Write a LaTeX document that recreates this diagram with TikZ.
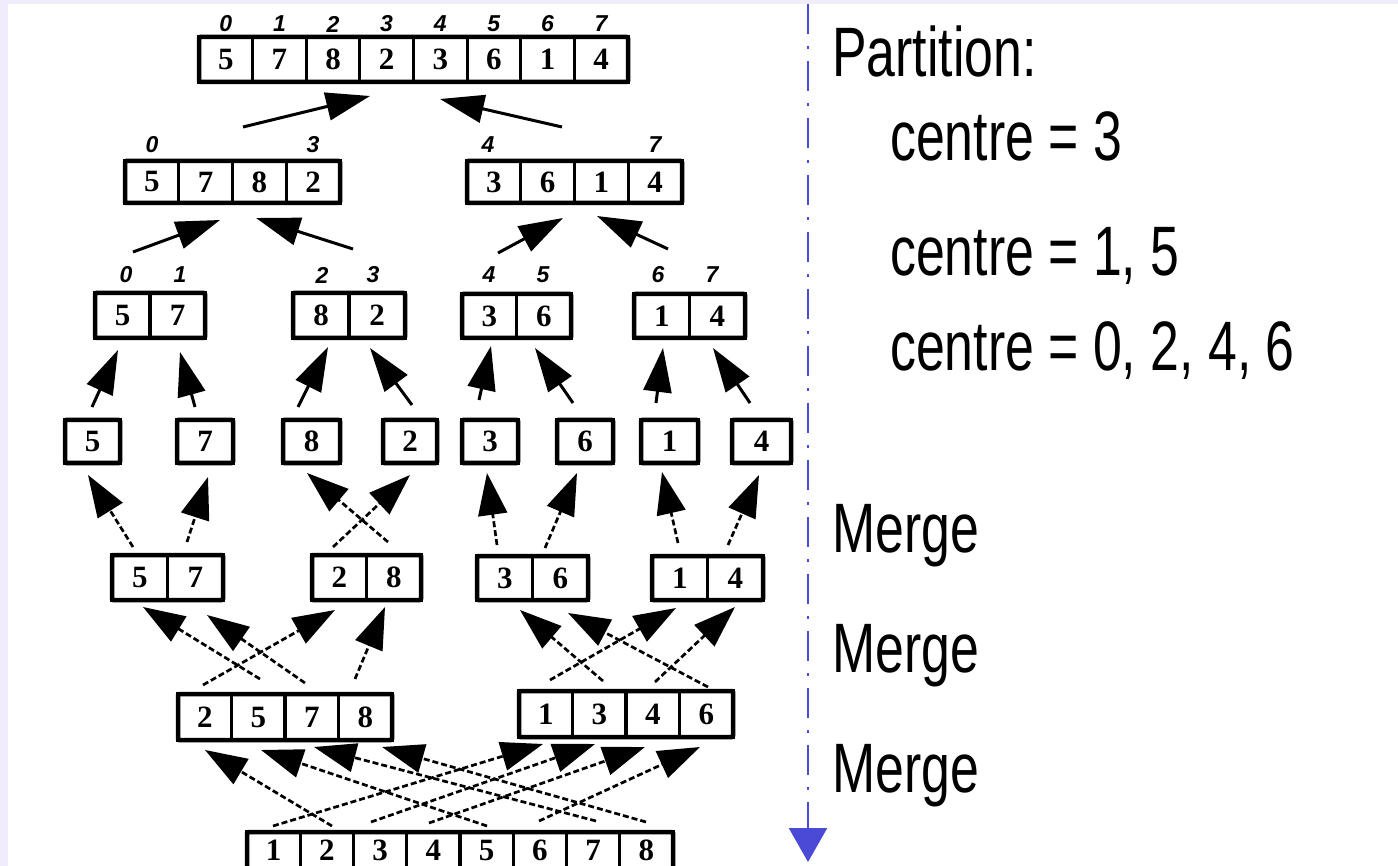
\documentclass[tikz,border=0pt]{standalone}
\usepackage{fontspec}
\setmainfont{Liberation Sans}
\newfontfamily\narrowfont[FakeStretch=0.74]{Liberation Sans}
\newfontfamily\digfont{Liberation Serif}
\newfontfamily\idxfont{Liberation Sans}
\usetikzlibrary{arrows.meta}
\definecolor{lav}{HTML}{F1ECFB}
\definecolor{bl}{HTML}{4A4AD6}
\tikzset{
 cell/.style={draw, line width=3.2pt, inner sep=0pt, font=\digfont\bfseries\fontsize{31}{31}\selectfont},
 digit/.style={inner sep=0pt, font=\digfont\bfseries\fontsize{31}{31}\selectfont},
 outerbox/.style={draw, line width=4.5pt, rounded corners=1.5pt, inner sep=0pt},
 idx/.style={font=\idxfont\bfseries\itshape\fontsize{23}{23}\selectfont, inner sep=0pt},
 solidarr/.style={line width=3pt, -{Triangle[length=44pt,width=28pt]}},
 dasharr/.style={line width=2.7pt, dash pattern=on 6pt off 3pt, -{Triangle[length=42pt,width=29pt]}},
 txt/.style={font=\narrowfont\fontsize{70}{84}\selectfont, anchor=base west, inner sep=0pt},
}
\newcommand{\mkarr}[7]{%
 \pgfmathsetmacro\arrcw{(#4-#3)/#2}%
 \pgfmathsetmacro\arrch{#6-#5}%
 \pgfmathsetmacro\arrtw{#4-#3}%
 \foreach \v [count=\i from 0] in {#7} {%
   \node[cell, minimum width=\arrcw pt, minimum height=\arrch pt] (#1-\i) at ({#3+(\i+0.5)*\arrcw}, {(#5+#6)/2}) {\v};
 }%
 \node[outerbox, minimum width=\arrtw pt, minimum height=\arrch pt] (#1) at ({(#3+#4)/2},{(#5+#6)/2}) {};
}
\newcommand{\conn}[4]{\coordinate (#1s) at (#3); \coordinate (#1e) at (#4); \draw[#2] (#1s) -- (#1e);}
\begin{document}
\begin{tikzpicture}[x=1pt,y=-1pt]
\fill[lav] (0,0) rectangle (1398,866);
\fill[white] (8,4) rectangle (1398,866);
\useasboundingbox (0,0) rectangle (1398,866);
\clip (0,0) rectangle (1398,866);

% level 0
\mkarr{L0}{8}{199}{628}{37}{82}{5,7,8,2,3,6,1,4}
\foreach \n [count=\i from 0] in {0,...,7} {
  \node[idx] (i0-\i) at ({199+(\i+0.5)*53.6}, 24) {\n};
}
% level 1
\mkarr{L1a}{4}{125}{340}{161}{203}{5,7,8,2}
\mkarr{L1b}{4}{467}{682}{161}{203}{3,6,1,4}
\node[idx] (i1a) at (152,145) {0};
\node[idx] (i1b) at (313,145) {3};
\node[idx] (i1c) at (488,145) {4};
\node[idx] (i1d) at (655,145) {7};
% level 2
\mkarr{L2a}{2}{95}{205}{293}{338}{5,7}
\mkarr{L2b}{2}{293}{405}{293}{338}{8,2}
\mkarr{L2c}{2}{462}{571}{294}{338}{3,6}
\mkarr{L2d}{2}{634}{745}{294}{338}{1,4}
\node[idx] (i2a) at (126,275) {0};
\node[idx] (i2b) at (180,275) {1};
\node[idx] (i2c) at (322,275) {2};
\node[idx] (i2d) at (373,275) {3};
\node[idx] (i2e) at (489,275) {4};
\node[idx] (i2f) at (543,275) {5};
\node[idx] (i2g) at (658,275) {6};
\node[idx] (i2h) at (712,275) {7};
% level 3
\mkarr{L3a}{1}{65}{120}{420}{463}{5}
\mkarr{L3b}{1}{177}{233}{420}{463}{7}
\mkarr{L3c}{1}{283}{340}{420}{463}{8}
\mkarr{L3d}{1}{383}{437}{420}{463}{2}
\mkarr{L3e}{1}{462}{518}{420}{463}{3}
\mkarr{L3f}{1}{557}{613}{420}{463}{6}
\mkarr{L3g}{1}{641}{698}{420}{463}{1}
\mkarr{L3h}{1}{732}{791}{420}{463}{4}
% level 4
\mkarr{L4a}{2}{112}{223}{555}{600}{5,7}
\mkarr{L4b}{2}{312}{421}{555}{600}{2,8}
\mkarr{L4c}{2}{477}{588}{556}{600}{3,6}
\mkarr{L4d}{2}{652}{763}{556}{600}{1,4}
% level 5
\mkarr{L5a}{4}{178}{392}{694}{740}{2,5,7,8}
\mkarr{L5b}{4}{519}{733}{691}{737}{1,3,4,6}
% level 6 (cut by the lower edge)
\mkarr{L6}{8}{247}{673}{832}{880}{,,,,,,,}
\foreach \n [count=\i from 0] in {1,...,8} {
  \node[digit] (L6d-\i) at ({247+(\i+0.5)*53.25}, 850) {\n};
}

% arrows L1 -> L0
\conn{A1}{solidarr}{243,127}{370,96}
\conn{A2}{solidarr}{562,127}{440,99}
% arrows L2 -> L1
\conn{B1}{solidarr}{133,252}{220,220}
\conn{B2}{solidarr}{353,249}{256,218}
\conn{B3}{solidarr}{498,253}{563,218}
\conn{B4}{solidarr}{668,249}{597,216}
% arrows L3 -> L2
\conn{C1}{solidarr}{92,407}{118,350}
\conn{C2}{solidarr}{195,407}{180,352}
\conn{C3}{solidarr}{298,407}{328,347}
\conn{C4}{solidarr}{412,405}{370,348}
\conn{C5}{solidarr}{479,400}{491,346}
\conn{C6}{solidarr}{573,403}{535,348}
\conn{C7}{solidarr}{656,403}{663,348}
\conn{C8}{solidarr}{750,403}{713,348}
% arrows L4 -> L3
\conn{D1}{dasharr}{133,547}{88,475}
\conn{D2}{dasharr}{187,542}{208,477}
\conn{D3}{dasharr}{388,542}{307,473}
\conn{D4}{dasharr}{333,547}{410,475}
\conn{D5}{dasharr}{497,545}{487,473}
\conn{D6}{dasharr}{545,548}{577,473}
\conn{D7}{dasharr}{678,543}{662,472}
\conn{D8}{dasharr}{728,545}{759,475}
% arrows L5 -> L4
\conn{E1}{dasharr}{260,679}{143,607}
\conn{E2}{dasharr}{305,683}{207,615}
\conn{E3}{dasharr}{203,685}{335,610}
\conn{E4}{dasharr}{355,679}{385,607}
\conn{E5}{dasharr}{603,681}{520,610}
\conn{E6}{dasharr}{708,687}{568,613}
\conn{E7}{dasharr}{550,680}{676,608}
\conn{E8}{dasharr}{655,682}{735,607}
% arrows L6 -> L5
\conn{F1}{dasharr}{332,826}{205,750}
\conn{F2}{dasharr}{487,826}{261,750}
\conn{F3}{dasharr}{596,821}{314,747}
\conn{F4}{dasharr}{646,822}{382,747}
\conn{F5}{dasharr}{273,826}{543,744}
\conn{F6}{dasharr}{371,822}{595,744}
\conn{F7}{dasharr}{429,823}{645,747}
\conn{F8}{dasharr}{539,821}{700,747}

% blue divider
\coordinate (vtop) at (808,4);
\coordinate (vbot) at (808,862);
\draw[bl, line width=2.5pt, dash pattern=on 30pt off 12pt on 3pt off 12pt, -{Triangle[length=34pt,width=38pt]}] (vtop) -- (vbot);

% texts
\node[txt] (t1) at (832,77) {Partition:};
\node[txt] (t2) at (890,161) {centre = 3};
\node[txt] (t3) at (890,276) {centre = 1, 5};
\node[txt] (t4) at (890,371) {centre = 0, 2, 4, 6};
\node[txt] (m1) at (832,552) {Merge};
\node[txt] (m2) at (832,672) {Merge};
\node[txt] (m3) at (832,792) {Merge};
\end{tikzpicture}
\end{document}
